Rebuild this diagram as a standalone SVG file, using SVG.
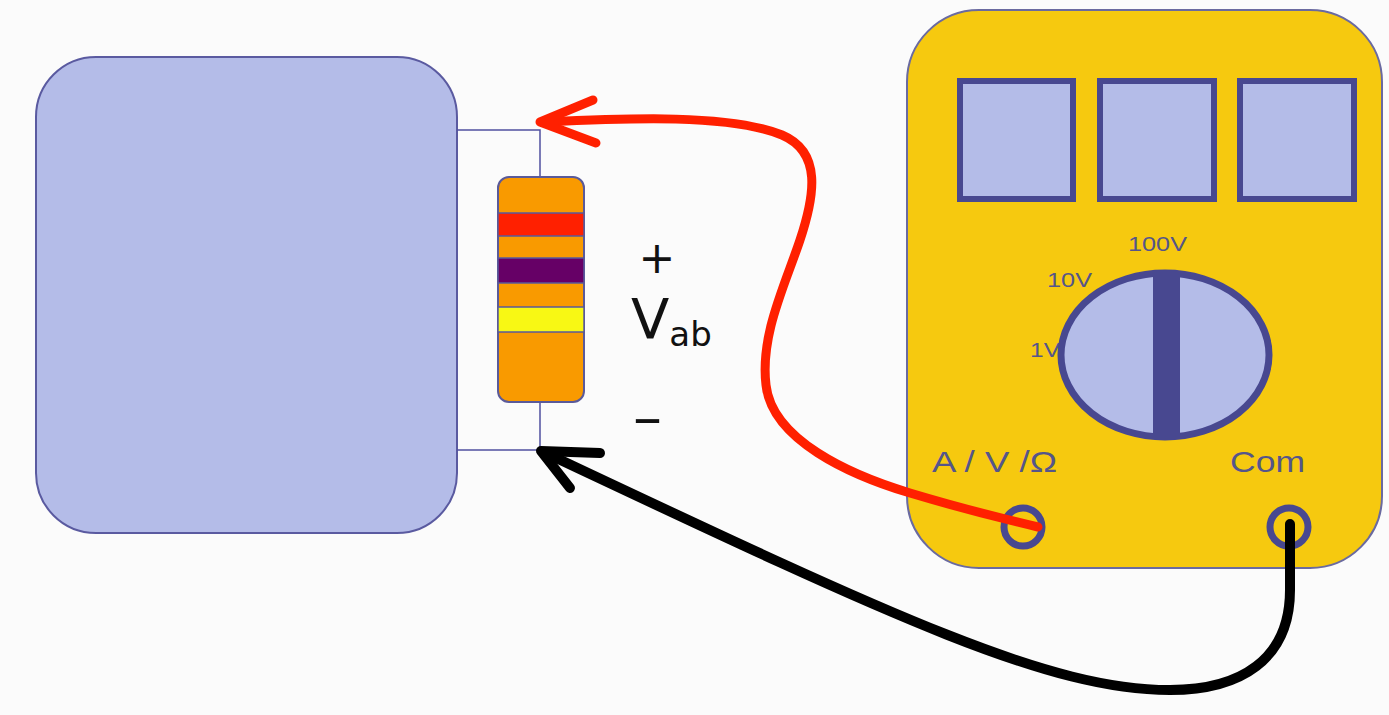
<svg xmlns="http://www.w3.org/2000/svg" width="1389" height="715" viewBox="0 0 1389 715">
  <style>
    .panel { fill: #b4bce8; stroke: #5a5aa0; stroke-width: 2; }
    .wire { fill: none; stroke: #5050a0; stroke-width: 1.5; }
    .band { stroke: #5a5a9a; stroke-width: 1.5; }
    .screen { fill: #b4bce8; stroke: #484890; stroke-width: 6; }
    .jack { fill: none; stroke: #484890; stroke-width: 7; }
    .scale { font-family: "Liberation Sans", Arial, sans-serif; fill: #55558a; }
    .sign { font-family: "DejaVu Sans", Verdana, sans-serif; fill: #111111; }
    .lead { fill: none; stroke-linecap: round; stroke-linejoin: round; }
  </style>
  <rect x="0" y="0" width="1389" height="715" fill="#fbfbfb"/>

  <!-- circuit block -->
  <g id="circuit">
    <rect class="panel" x="36" y="57" width="421" height="476" rx="60" ry="60"/>
  </g>

  <!-- resistor and its terminals -->
  <g id="resistor">
    <path class="wire" d="M457,130 H540 V177 M540,402 V450 H457"/>
    <rect x="498" y="177" width="86" height="225" rx="11" ry="11" fill="#f99a00" stroke="#5a5a9a" stroke-width="2"/>
    <rect class="band" x="498" y="213" width="86" height="23" fill="#ff2000"/>
    <rect class="band" x="498" y="258" width="86" height="25" fill="#660066"/>
    <rect class="band" x="498" y="307" width="86" height="25" fill="#f8f814"/>
  </g>

  <!-- voltage label -->
  <g id="vab">
    <text class="sign" x="657" y="273" font-size="44" text-anchor="middle">+</text>
    <text class="sign" x="631" y="338" font-size="56">V<tspan font-size="34" dy="8">ab</tspan></text>
    <text class="sign" x="633" y="436" font-size="56" textLength="29" lengthAdjust="spacingAndGlyphs">–</text>
  </g>

  <!-- multimeter -->
  <g id="multimeter">
    <rect x="907" y="10" width="475" height="558" rx="72" ry="72" fill="#f6c90f" stroke="#6a6aa0" stroke-width="2"/>
    <rect class="screen" x="960" y="81" width="113" height="118"/>
    <rect class="screen" x="1100" y="81" width="114" height="118"/>
    <rect class="screen" x="1240" y="81" width="114" height="118"/>
    <text class="scale" x="1128" y="251" font-size="20" textLength="59" lengthAdjust="spacingAndGlyphs">100V</text>
    <text class="scale" x="1047" y="287" font-size="20" textLength="45" lengthAdjust="spacingAndGlyphs">10V</text>
    <text class="scale" x="1030" y="357" font-size="20" textLength="30" lengthAdjust="spacingAndGlyphs">1V</text>
    <ellipse cx="1165" cy="355" rx="104" ry="82" fill="#b4bce8" stroke="#484890" stroke-width="7"/>
    <rect x="1153" y="273" width="27" height="164" fill="#484890"/>
    <text class="scale" x="932" y="472" font-size="30" textLength="125" lengthAdjust="spacingAndGlyphs">A / V /Ω</text>
    <text class="scale" x="1230" y="472" font-size="30" textLength="75" lengthAdjust="spacingAndGlyphs">Com</text>
    <circle class="jack" cx="1023" cy="527" r="19"/>
    <circle class="jack" cx="1289" cy="527" r="19"/>
  </g>

  <!-- test leads -->
  <g id="connectors">
    <path class="lead" stroke="#ff2000" stroke-width="9" d="M1038,527 C1000,518 960,508 910,493 C850,475 772,440 766,385 C760,335 785,285 800,240 C815,195 822,152 782,135 C730,114 630,118 545,122"/>
    <path class="lead" stroke="#ff2000" stroke-width="9" d="M593,100 L540,122 L596,143"/>
    <path class="lead" stroke="#000000" stroke-width="10" d="M1290,524 V590 C1290,660 1240,690 1170,690 C1050,690 900,620 552,456"/>
    <path class="lead" stroke="#000000" stroke-width="10" d="M600,453 L541,451 L570,488"/>
  </g>
</svg>
